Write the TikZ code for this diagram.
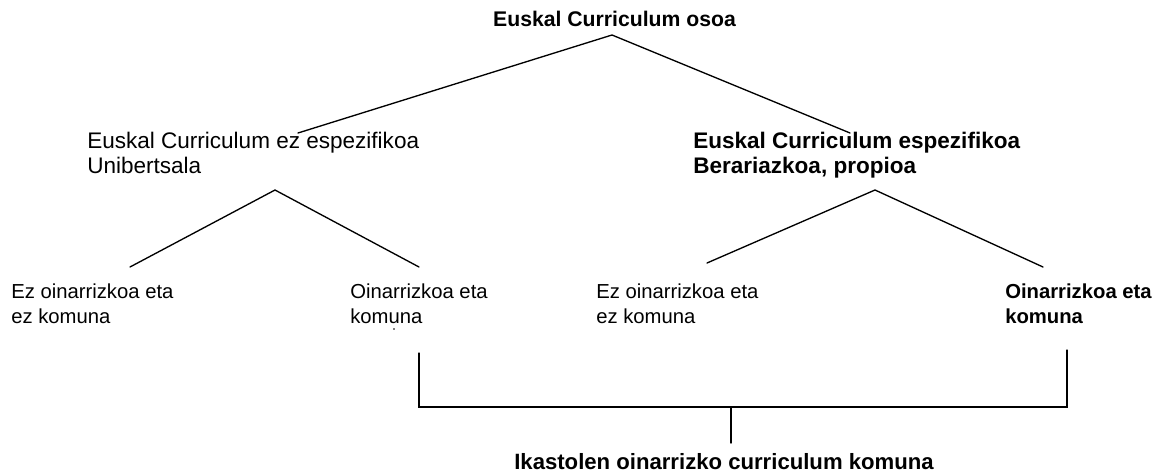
\documentclass[tikz,border=0pt]{standalone}
\usepackage{fontspec}
\setmainfont{Liberation Sans}
\begin{document}
\begin{tikzpicture}[x=0.75pt,y=-0.75pt,
  lbl/.style={inner sep=0pt, anchor=base west, font=\fontsize{16.9}{18.75}\selectfont},
  lblb/.style={inner sep=0pt, anchor=base west, font=\fontsize{16.9}{18.75}\selectfont\bfseries},
  leaf/.style={inner sep=0pt, anchor=base west, font=\fontsize{15.2}{18.75}\selectfont},
  leafb/.style={inner sep=0pt, anchor=base west, font=\fontsize{15.2}{18.75}\selectfont\bfseries},
  conn/.style={line width=1pt, black, line cap=round, line join=miter}]
\useasboundingbox (0,0) rectangle (1154,475);
\renewcommand{\arraystretch}{1}
% texts
\node[inner sep=0pt, anchor=base, font=\fontsize{15.9}{18}\selectfont\bfseries] (root) at (614.5,26) {Euskal Curriculum osoa};
\node[lbl] (gen) at (87,148) {\begin{tabular}[t]{@{}l@{}}Euskal Curriculum ez espezifikoa\\Unibertsala\end{tabular}};
\node[lblb] (spec) at (693,148) {\begin{tabular}[t]{@{}l@{}}Euskal Curriculum espezifikoa\\Berariazkoa, propioa\end{tabular}};
\node[leaf] (g1) at (11,298) {\begin{tabular}[t]{@{}l@{}}Ez oinarrizkoa eta\\ez komuna\end{tabular}};
\node[leaf] (g2) at (350,298) {\begin{tabular}[t]{@{}l@{}}Oinarrizkoa eta\\komuna\end{tabular}};
\node[leaf] (s1) at (596,298) {\begin{tabular}[t]{@{}l@{}}Ez oinarrizkoa eta\\ez komuna\end{tabular}};
\node[leafb] (s2) at (1005,298) {\begin{tabular}[t]{@{}l@{}}Oinarrizkoa eta\\komuna\end{tabular}};
\node[inner sep=0pt, anchor=base, font=\fontsize{16.6}{18.75}\selectfont\bfseries] (common) at (724,469) {Ikastolen oinarrizko curriculum komuna};
% connector end points
\coordinate (rootA) at (612,35);
\coordinate (genT) at (298,133);
\coordinate (specT) at (850,133);
\coordinate (genA) at (275,190);
\coordinate (g1T) at (130,267);
\coordinate (g2T) at (419,267);
\coordinate (specA) at (875,190);
\coordinate (s1T) at (707,263);
\coordinate (s2T) at (1043,267);
\coordinate (g2B) at (419,353);
\coordinate (g2C) at (419,407);
\coordinate (s2B) at (1067,350);
\coordinate (s2C) at (1067,407);
\coordinate (midC) at (731,407);
\coordinate (commonT) at (731,443);
% connectors
\draw[conn] (genT) -- (rootA) -- (specT);
\draw[conn] (g1T) -- (genA) -- (g2T);
\draw[conn] (s1T) -- (specA) -- (s2T);
\draw[conn] (g2B) -- (g2C) -- (s2C) -- (s2B);
\draw[conn] (midC) -- (commonT);
% small stray dot
\fill (394,329) circle (0.9);
\end{tikzpicture}
\end{document}
